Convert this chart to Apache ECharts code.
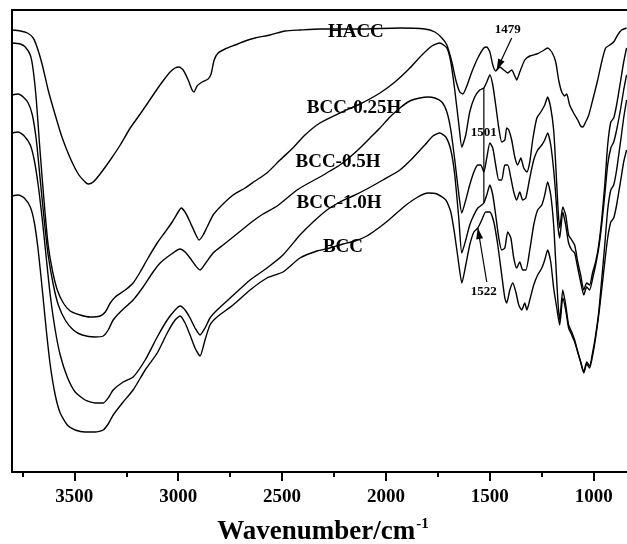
<!DOCTYPE html>
<html>
<head>
<meta charset="utf-8">
<script src="https://cdn.jsdelivr.net/npm/echarts@6.0.0/dist/echarts.min.js"></script>
<style>
  html, body { margin: 0; padding: 0; background: #fff; }
  #chart { width: 627px; height: 544px; }
</style>
</head>
<body>
<div id="chart"></div>
<script>
  // FTIR spectra, [wavenumber (cm-1), transmittance (a.u., offset)]
  const hacc = [
    [3800,442],[3760,441],[3726,439],[3698,434],[3678,424],[3654,407],[3626,382],[3592,357],
    [3558,334],[3520,314],[3481,298],[3448,290],[3433,288],[3409,290],[3376,298],[3327,312],
    [3279,327],[3231,344],[3183,358],[3150,368],[3111,380],[3077,390],[3039,400],[3015,404],
    [2996,405],[2976,402],[2952,392],[2933,382],[2924,380],[2909,386],[2885,390],[2856,393],
    [2842,398],[2827,412],[2808,419],[2774,423],[2726,427],[2678,431],[2630,434],[2558,437],
    [2486,441],[2414,442],[2318,443],[2125,443],[1933,444],[1813,443],[1765,440],[1731,434],
    [1707,427],[1683,410],[1664,392],[1645,380],[1630,378],[1611,386],[1587,400],[1558,414],
    [1529,424],[1515,425],[1500,420],[1486,407],[1472,401],[1452,405],[1433,402],[1414,399],
    [1395,402],[1380,396],[1371,392],[1356,400],[1332,412],[1308,416],[1274,418],[1246,421],
    [1222,424],[1202,420],[1183,410],[1169,392],[1154,380],[1140,376],[1130,378],[1116,367],
    [1097,359],[1077,352],[1063,346],[1053,345],[1039,350],[1024,357],[1005,372],[981,392],
    [962,410],[943,424],[923,427],[904,430],[885,437],[866,442],[842,444]
  ];
  const bcc025 = [
    [3800,429],[3760,428],[3736,425],[3712,417],[3698,402],[3683,372],[3669,332],[3654,292],
    [3640,257],[3626,227],[3606,202],[3582,182],[3553,169],[3520,161],[3472,157],[3424,155],
    [3376,156],[3351,160],[3327,169],[3303,175],[3255,182],[3217,189],[3183,200],[3145,214],
    [3101,229],[3063,240],[3029,250],[3000,260],[2986,264],[2967,260],[2943,250],[2919,239],
    [2900,232],[2880,237],[2861,245],[2832,257],[2789,267],[2736,277],[2678,284],[2630,291],
    [2573,299],[2510,312],[2448,324],[2390,337],[2318,349],[2222,359],[2125,368],[2029,379],
    [1957,390],[1885,404],[1827,417],[1779,426],[1741,429],[1707,424],[1688,410],[1669,382],
    [1649,347],[1635,325],[1616,337],[1597,360],[1573,375],[1549,382],[1529,384],[1515,390],
    [1500,397],[1486,387],[1472,367],[1457,344],[1443,330],[1428,332],[1419,344],[1409,342],
    [1395,332],[1380,315],[1366,307],[1351,314],[1337,304],[1322,300],[1308,310],[1294,332],
    [1274,354],[1255,360],[1236,367],[1222,375],[1207,364],[1193,342],[1183,307],[1173,267],
    [1164,244],[1149,265],[1135,257],[1121,237],[1106,232],[1092,227],[1077,210],[1063,197],
    [1048,182],[1034,189],[1020,187],[1005,200],[991,210],[976,227],[962,252],[947,287],
    [933,327],[918,350],[904,354],[890,367],[870,392],[856,410],[842,424]
  ];
  const bcc05 = [
    [3800,377],[3770,378],[3746,375],[3722,369],[3702,357],[3683,332],[3664,292],[3645,252],
    [3626,217],[3601,187],[3577,167],[3544,152],[3505,142],[3462,137],[3400,135],[3361,136],
    [3337,142],[3313,152],[3279,160],[3217,172],[3169,185],[3121,200],[3087,209],[3039,217],
    [2991,223],[2967,220],[2943,214],[2919,207],[2895,202],[2871,208],[2832,219],[2784,227],
    [2736,235],[2688,243],[2640,251],[2592,258],[2524,266],[2476,274],[2428,282],[2380,288],
    [2318,295],[2270,301],[2222,307],[2173,315],[2125,324],[2077,334],[2029,344],[1981,355],
    [1933,364],[1885,371],[1837,374],[1798,375],[1765,374],[1731,370],[1707,360],[1688,342],
    [1669,312],[1649,277],[1635,259],[1616,272],[1597,287],[1577,300],[1558,307],[1544,307],
    [1529,300],[1515,314],[1500,329],[1486,324],[1472,307],[1457,292],[1443,292],[1428,307],
    [1414,307],[1399,294],[1385,280],[1371,272],[1356,280],[1342,272],[1327,274],[1308,294],
    [1289,312],[1270,322],[1250,327],[1236,332],[1222,339],[1207,327],[1193,302],[1183,277],
    [1173,247],[1164,234],[1149,260],[1135,247],[1121,229],[1106,222],[1092,219],[1077,204],
    [1063,190],[1048,177],[1034,185],[1020,182],[1005,194],[991,207],[976,224],[962,247],
    [947,277],[933,307],[918,324],[904,330],[890,342],[870,364],[856,382],[842,397]
  ];
  const bcc10 = [
    [3800,339],[3770,340],[3741,336],[3712,327],[3693,312],[3674,287],[3654,252],[3635,214],
    [3616,177],[3592,142],[3568,117],[3534,95],[3496,80],[3448,72],[3400,69],[3361,69],
    [3337,74],[3313,82],[3265,90],[3217,95],[3159,112],[3101,135],[3053,152],[3015,162],
    [2991,166],[2967,162],[2943,154],[2919,144],[2895,137],[2871,144],[2847,154],[2813,162],
    [2750,174],[2654,192],[2573,204],[2496,217],[2414,237],[2351,250],[2284,262],[2222,270],
    [2159,276],[2092,283],[2015,292],[1933,302],[1871,314],[1813,327],[1774,336],[1741,339],
    [1712,335],[1688,322],[1669,297],[1649,252],[1635,219],[1616,232],[1597,247],[1577,257],
    [1558,264],[1539,267],[1529,269],[1515,277],[1500,287],[1486,277],[1472,257],[1457,234],
    [1443,222],[1428,224],[1414,240],[1399,234],[1385,214],[1371,204],[1356,210],[1342,202],
    [1327,202],[1308,222],[1289,247],[1270,262],[1250,267],[1236,277],[1222,290],[1207,277],
    [1193,247],[1183,210],[1173,172],[1164,152],[1149,182],[1135,167],[1121,147],[1106,140],
    [1092,132],[1077,120],[1063,110],[1048,100],[1034,110],[1020,106],[1005,120],[991,137],
    [976,160],[962,192],[947,227],[933,262],[918,282],[904,287],[890,302],[870,332],
    [856,354],[842,372]
  ];
  const bcc = [
    [3800,276],[3770,277],[3741,274],[3712,265],[3693,250],[3674,222],[3654,182],[3635,142],
    [3616,107],[3592,77],[3568,59],[3534,47],[3496,42],[3448,40],[3400,40],[3361,42],
    [3337,48],[3313,57],[3265,70],[3217,82],[3159,102],[3101,119],[3053,139],[3015,152],
    [2991,156],[2967,149],[2943,137],[2919,124],[2895,116],[2871,132],[2847,147],[2813,155],
    [2736,167],[2654,182],[2573,194],[2496,200],[2414,214],[2332,221],[2270,224],[2207,228],
    [2149,231],[2092,236],[2029,245],[1981,253],[1909,266],[1847,275],[1798,279],[1755,278],
    [1712,272],[1688,260],[1669,237],[1649,207],[1635,189],[1616,207],[1597,227],[1577,240],
    [1558,244],[1539,252],[1520,260],[1500,260],[1481,250],[1462,227],[1443,197],[1428,174],
    [1419,169],[1404,182],[1390,189],[1375,180],[1361,167],[1347,162],[1332,169],[1322,162],
    [1308,172],[1289,187],[1270,197],[1250,204],[1236,212],[1222,222],[1207,210],[1193,184],
    [1178,164],[1164,147],[1149,174],[1135,162],[1121,144],[1106,137],[1092,130],[1077,120],
    [1063,110],[1048,99],[1034,108],[1020,104],[1005,117],[991,134],[976,157],[962,182],
    [947,210],[933,234],[918,250],[904,254],[890,267],[870,292],[856,310],[842,322]
  ];

  const seriesData = [hacc, bcc025, bcc05, bcc10, bcc];
  const seriesNames = ['HACC', 'BCC-0.25H', 'BCC-0.5H', 'BCC-1.0H', 'BCC'];
  // where each name sits, in data coordinates
  const nameAnchors = [[2145, 440], [2154, 364], [2231, 310], [2226, 269], [2207, 225]];

  const majorTicks = [1000, 1500, 2000, 2500, 3000, 3500];
  const minorTicks = [1250, 1750, 2250, 2750, 3250, 3750];

  // band annotations: text, text anchor, line start, line end (arrow at end if arrow true)
  const bandLabels = ['1479', '1501', '1522'];
  const bandTextAt = [[1414, 442], [1529, 339], [1529, 180]];
  const bandLineFrom = [[1395, 434], [1529, 384], [1515, 190]];
  const bandLineTo = [[1467, 402], [1529, 269], [1558, 244]];
  const bandArrow = [true, false, true];

  const FONT = '"Liberation Serif", "Times New Roman", serif';

  const chart = echarts.init(document.getElementById('chart'));

  const plainAxis = {
    type: 'value',
    inverse: true,
    min: 840,
    max: 3800,
    splitLine: { show: false }
  };

  chart.setOption({
    animation: false,
    backgroundColor: '#fff',
    grid: { left: 12, top: 10, right: 0, bottom: 72 },
    xAxis: [
      Object.assign({}, plainAxis, {
        position: 'bottom',
        axisLine: { lineStyle: { color: '#000', width: 2 } },
        axisTick: { customValues: majorTicks, length: 9, lineStyle: { color: '#000', width: 2 } },
        axisLabel: {
          customValues: majorTicks,
          formatter: v => String(v),
          color: '#000',
          fontFamily: FONT,
          fontWeight: 'bold',
          fontSize: 19,
          margin: 16
        }
      }),
      Object.assign({}, plainAxis, {
        // minor ticks only
        position: 'bottom',
        axisLine: { show: false },
        axisTick: { customValues: minorTicks, length: 5, lineStyle: { color: '#000', width: 2 } },
        axisLabel: { show: false }
      }),
      Object.assign({}, plainAxis, {
        // top frame line
        position: 'top',
        axisLine: { lineStyle: { color: '#000', width: 2 } },
        axisTick: { show: false },
        axisLabel: { show: false }
      })
    ],
    yAxis: {
      type: 'value',
      min: 0,
      max: 462,
      axisLine: { show: true, lineStyle: { color: '#000', width: 2 } },
      axisTick: { show: false },
      axisLabel: { show: false },
      splitLine: { show: false }
    },
    series: seriesData.map((d, i) => ({
      name: seriesNames[i],
      type: 'line',
      xAxisIndex: 0,
      data: d,
      symbol: 'none',
      smooth: 0.2,
      lineStyle: { color: '#000', width: 1.4 }
    }))
  });

  // text and arrows placed through the axes
  function px(p) {
    return chart.convertToPixel({ xAxisIndex: 0, yAxisIndex: 0 }, p);
  }

  const graphics = [];
  seriesNames.forEach((name, i) => {
    const p = px(nameAnchors[i]);
    graphics.push({
      type: 'text',
      x: p[0], y: p[1],
      style: {
        text: name,
        font: 'bold 19px ' + FONT,
        fill: '#000',
        align: 'center',
        verticalAlign: 'middle'
      },
      z: 10
    });
  });

  bandLabels.forEach((t, i) => {
    const p = px(bandTextAt[i]);
    graphics.push({
      type: 'text',
      x: p[0], y: p[1],
      style: {
        text: t,
        font: 'bold 13px ' + FONT,
        fill: '#000',
        align: 'center',
        verticalAlign: 'middle'
      },
      z: 10
    });
    const a = px(bandLineFrom[i]);
    const b = px(bandLineTo[i]);
    graphics.push({
      type: 'line',
      shape: { x1: a[0], y1: a[1], x2: b[0], y2: b[1] },
      style: { stroke: '#000', lineWidth: 1.2 },
      z: 9
    });
    if (bandArrow[i]) {
      const dx = b[0] - a[0], dy = b[1] - a[1];
      const len = Math.sqrt(dx * dx + dy * dy);
      const ux = dx / len, uy = dy / len;
      const hl = 11, hw = 3.5;
      const bx = b[0] - ux * hl, by = b[1] - uy * hl;
      graphics.push({
        type: 'polygon',
        shape: { points: [[b[0], b[1]], [bx - uy * hw, by + ux * hw], [bx + uy * hw, by - ux * hw]] },
        style: { fill: '#000' },
        z: 9
      });
    }
  });

  // axis title, centred under the visible axis
  graphics.push({
    type: 'text',
    x: 323, y: 532,
    style: {
      text: '{a|Wavenumber/cm}{b|-1}',
      align: 'center',
      verticalAlign: 'middle',
      rich: {
        a: { font: 'bold 27px ' + FONT, fill: '#000' },
        b: { font: 'bold 15px ' + FONT, fill: '#000', verticalAlign: 'top', padding: [0, 0, 15, 1] }
      }
    }
  });

  chart.setOption({ graphic: graphics });
</script>
</body>
</html>
